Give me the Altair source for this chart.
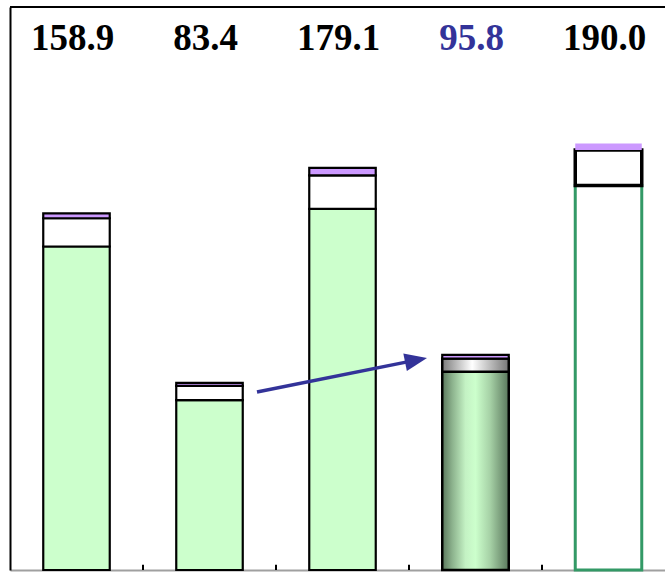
import altair as alt
import pandas as pd

# Stacked totals per column and their three components
labels = ["158.9", "83.4", "179.1", "95.8", "190.0"]
totals = [158.9, 83.4, 179.1, 95.8, 190.0]
green = [144.1, 75.7, 160.9, 88.3, 171.3]
white = [12.6, 6.3, 14.9, 5.9, 15.8]
purple = [round(t - g - w, 1) for t, g, w in zip(totals, green, white)]
highlight = "95.8"

# Arrow from the second column towards the fourth
arrow_x = [2.357, 3.553]
arrow_y = [79.3, 93.5]
tick_x = [1.5, 2.5, 3.5, 4.5]

W, H = 655, 563
HALF = 0.25
EDGE = 2.2

rows = []
for i, (g, w, p) in enumerate(zip(green, white, purple)):
    pos = i + 1
    base = 0.0
    for seg, val in (("green", g), ("white", w), ("purple", p)):
        rows.append(dict(pos=pos, x0=pos - HALF, x1=pos + HALF, seg=seg,
                         y0=base, y1=base + val))
        base += val
segs = pd.DataFrame(rows)

xscale = alt.Scale(domain=[0.5, 0.5 + W / 133], nice=False, zero=False)
yscale = alt.Scale(domain=[0, 250.8], nice=False, zero=False)
xaxis = alt.Axis(domainColor="#a0a0a0", domainWidth=2, ticks=False,
                 labels=False, grid=False, title=None)
yaxis = alt.Axis(domainColor="black", domainWidth=2, ticks=False,
                 labels=False, grid=False, title=None)


def X(field):
    return alt.X(field, type="quantitative", scale=xscale, axis=xaxis)


def Y(field):
    return alt.Y(field, type="quantitative", scale=yscale, axis=yaxis)


def seg_layer(data, **mark):
    return alt.Chart(data).mark_bar(**mark).encode(
        x=X("x0"), x2="x1", y=Y("y0"), y2="y1")


plain = segs[segs.pos <= 3]
g4 = segs[(segs.pos == 4) & (segs.seg == "green")]
w4 = segs[(segs.pos == 4) & (segs.seg == "white")]
p4 = segs[(segs.pos == 4) & (segs.seg == "purple")]
g5 = segs[(segs.pos == 5) & (segs.seg == "green")]
w5 = segs[(segs.pos == 5) & (segs.seg == "white")]
p5 = segs[(segs.pos == 5) & (segs.seg == "purple")]

plain_bars = alt.Chart(plain).mark_bar(stroke="black", strokeWidth=EDGE).encode(
    x=X("x0"), x2="x1", y=Y("y0"), y2="y1",
    fill=alt.Fill("seg:N", legend=None,
                  scale=alt.Scale(domain=["green", "white", "purple"],
                                  range=["#ccffcc", "#ffffff", "#cc99ff"])),
)

green_grad = alt.Gradient(
    gradient="linear", x1=0, x2=1, y1=0, y2=0,
    stops=[
        alt.GradientStop(color="#5a775c", offset=0),
        alt.GradientStop(color="#8cb28d", offset=0.15),
        alt.GradientStop(color="#c4f2c4", offset=0.35),
        alt.GradientStop(color="#ccffcc", offset=0.5),
        alt.GradientStop(color="#a6d1a6", offset=0.72),
        alt.GradientStop(color="#5a775c", offset=1),
    ],
)
grey_grad = alt.Gradient(
    gradient="linear", x1=0, x2=1, y1=0, y2=0,
    stops=[
        alt.GradientStop(color="#7c7c7c", offset=0),
        alt.GradientStop(color="#ffffff", offset=0.45),
        alt.GradientStop(color="#767676", offset=1),
    ],
)

bar4 = (seg_layer(g4, fill=green_grad, stroke="black", strokeWidth=2.5)
        + seg_layer(w4, fill=grey_grad, stroke="black", strokeWidth=2.5)
        + seg_layer(p4, fill="#cc99ff", stroke="black", strokeWidth=EDGE))

bar5 = (seg_layer(g5, fill="#ffffff", stroke="#339966", strokeWidth=3)
        + seg_layer(w5, fill="#ffffff", stroke="black", strokeWidth=3.5)
        + seg_layer(p5, fill="#cc99ff", strokeWidth=0))

ticks = alt.Chart(pd.DataFrame({"x": tick_x, "y0": 0.0, "y1": 2.3})).mark_rule(
    color="black", strokeWidth=2).encode(x=X("x"), y=Y("y0"), y2="y1")

top_border = alt.Chart(pd.DataFrame({"a": [0]})).mark_rule(
    color="black", strokeWidth=2).encode(
    x=alt.value(0), x2=alt.value(W), y=alt.value(0))

arrow_df = pd.DataFrame({"x": arrow_x, "y": arrow_y, "o": [0, 1]})
arrow_line = alt.Chart(arrow_df).mark_line(
    color="#333399", strokeWidth=3.5).encode(x=X("x"), y=Y("y"), order="o")
arrow_head = alt.Chart(arrow_df.iloc[[1]]).mark_point(
    shape="M-1,-0.8L1,0L-1,0.8Z", size=500, filled=True, opacity=1,
    color="#333399", angle=348.6).encode(x=X("x"), y=Y("y"))

label_df = pd.DataFrame({"pos": list(range(1, 6)), "label": labels})
value_text = alt.Chart(label_df).mark_text(
    font="Liberation Serif", fontWeight="bold", fontSize=37,
    baseline="alphabetic", align="center", dx=-4).encode(
    x=X("pos"), y=alt.value(43), text="label:N",
    color=alt.condition(alt.datum.label == highlight,
                        alt.value("#333399"), alt.value("black")),
)

chart = alt.layer(
    plain_bars, bar4, bar5, ticks, top_border, arrow_line, arrow_head, value_text
).properties(
    width=W, height=H,
    autosize=alt.AutoSizeParams(type="none"),
    padding={"left": 10, "top": 7, "right": 0, "bottom": 2},
).configure_view(strokeWidth=0)

chart.save("out.html", embed_options={"renderer": "svg", "actions": False})
